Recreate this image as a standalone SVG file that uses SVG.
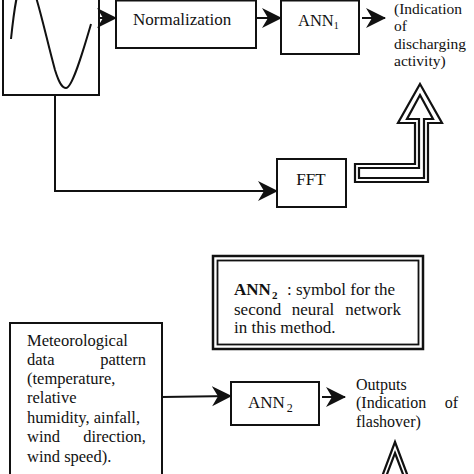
<svg xmlns="http://www.w3.org/2000/svg" width="474" height="474" viewBox="0 0 474 474">
<defs>
<style>
.box{fill:#fff;stroke:#111;stroke-width:2}
.ln{fill:none;stroke:#111;stroke-width:2}
.t{font-family:"Liberation Serif","Times New Roman",serif;fill:#111}
.dbl{fill:#fff;stroke:#111;stroke-width:2.2;stroke-linejoin:miter}
</style>
<marker id="ah" markerUnits="userSpaceOnUse" markerWidth="22" markerHeight="22" refX="19" refY="10" orient="auto">
<path d="M0,0 L20,10 L0,20 L6,10 Z" fill="#111"/>
</marker>
</defs>
<rect width="474" height="474" fill="#fff"/>

<g id="signal">
<rect class="box" x="3" y="-5" width="96" height="100"/>
<path class="ln" d="M11,39 C14,10 18,-22 26,-22 C34,-22 44,30 55,70 C60,86 63,88 66,88 C72,88 82,55 91,24"/>
</g>

<g id="normalization">
<rect class="box" x="116" y="0.5" width="140" height="47.5"/>
<text class="t" x="133" y="25" font-size="17">Normalization</text>
</g>

<g id="ann1">
<rect class="box" x="281" y="0.5" width="78" height="53.5"/>
<text class="t" x="298" y="26" font-size="16.5">ANN<tspan font-size="10" dy="3">1</tspan></text>
</g>

<g id="output1">
<text class="t" font-size="15.5"><tspan x="394" y="13.5">(Indication</tspan><tspan x="394" y="31">of</tspan><tspan x="394" y="48.5">discharging</tspan><tspan x="394" y="66">activity)</tspan></text>
</g>

<g id="fft">
<rect class="box" x="277" y="159" width="69" height="48"/>
<text class="t" x="311" y="185" font-size="17" text-anchor="middle">FFT</text>
</g>

<g id="legend">
<rect x="213" y="256" width="210" height="93" fill="#fff" stroke="#111" stroke-width="2.5"/>
<rect x="217.5" y="260.5" width="201" height="84" fill="none" stroke="#111" stroke-width="1.8"/>
<text class="t" font-size="17"><tspan x="234" y="295" font-weight="bold">ANN</tspan><tspan x="272" y="299" font-size="11" font-weight="bold">2</tspan><tspan x="287" y="295">: symbol for the</tspan></text>
<text class="t" font-size="17" x="234" y="315">second</text>
<text class="t" font-size="17" x="313" y="315" text-anchor="middle">neural</text>
<text class="t" font-size="17" x="401" y="315" text-anchor="end">network</text>
<text class="t" x="234" y="333" font-size="17">in this method.</text>
</g>

<g id="meteo">
<rect class="box" x="10" y="323" width="152" height="160"/>
<text class="t" font-size="16.5">
<tspan x="27" y="346">Meteorological</tspan>
<tspan x="27" y="365">data</tspan>
<tspan x="27" y="384">(temperature,</tspan>
<tspan x="27" y="403">relative</tspan>
<tspan x="27" y="423">humidity, ainfall,</tspan>
<tspan x="27" y="442">wind</tspan>
<tspan x="27" y="462">wind speed).</tspan>
</text>
<text class="t" font-size="16.5" x="146" y="365" text-anchor="end">pattern</text>
<text class="t" font-size="16.5" x="146" y="442" text-anchor="end">direction,</text>
</g>

<g id="ann2">
<rect class="box" x="231" y="382" width="88" height="43"/>
<text class="t" x="248" y="408" font-size="17">ANN<tspan font-size="12" dx="2" dy="4">2</tspan></text>
</g>

<g id="output2">
<text class="t" font-size="16"><tspan x="356" y="390">Outputs</tspan><tspan x="356" y="408">(Indication</tspan><tspan x="356" y="427">flashover)</tspan></text>
<text class="t" font-size="16" x="458" y="408" text-anchor="end">of</text>
</g>

<g id="connectors">
<path class="ln" d="M99,18 L116,18" marker-end="url(#ah)"/>
<path class="ln" d="M256,18 L281,18" marker-end="url(#ah)"/>
<path class="ln" d="M362,18 L385,18" marker-end="url(#ah)"/>
<path class="ln" d="M55,95 L55,191 L277,191" marker-end="url(#ah)"/>
<path class="ln" d="M162,397 L231,396" marker-end="url(#ah)"/>
<path class="ln" d="M322,397 L345,397" marker-end="url(#ah)"/>
<g id="bigArrow1">
<path class="dbl" d="M420,84 L442,123 L428,123 L428,182 L355,182 L355,164 L415,164 L415,123 L398,123 Z"/>
<path class="dbl" stroke-width="1.8" d="M420,95 L433,119 L424,119 L424,178 L359,178 L359,168 L419,168 L419,119 L407,119 Z"/>
</g>
<g id="bigArrow2">
<path class="dbl" d="M395,442 L413,490 L377,490 Z"/>
<path class="dbl" stroke-width="1.8" d="M395,453 L409,490 L381,490 Z"/>
</g>
</g>
</svg>
